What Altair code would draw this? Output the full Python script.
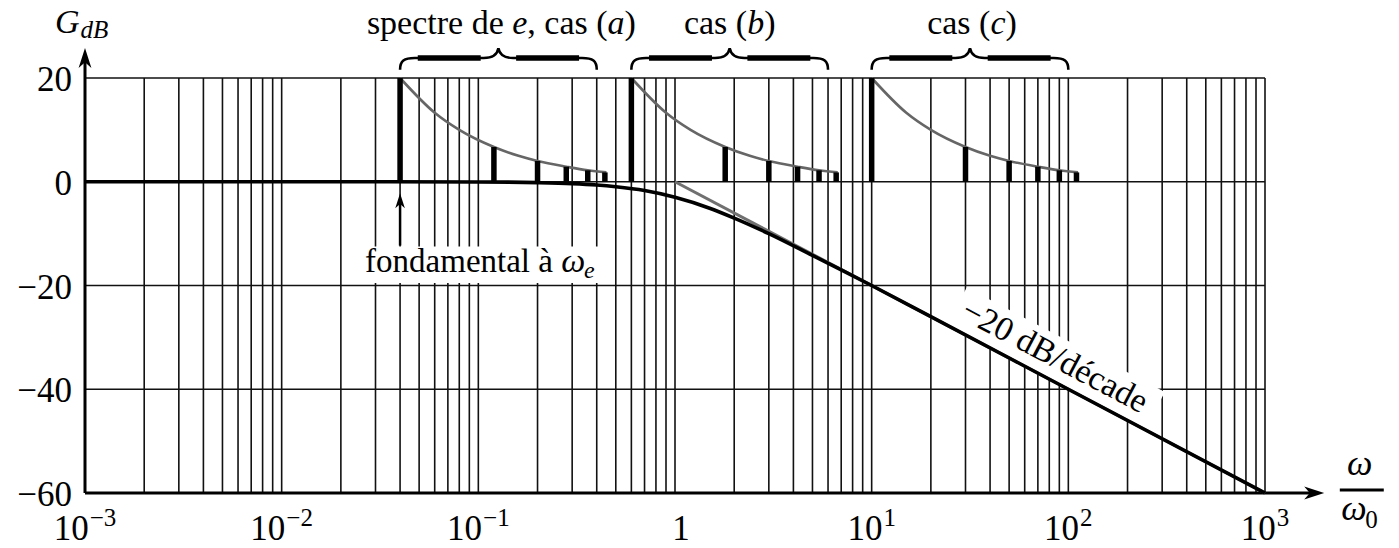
import altair as alt
import pandas as pd

# ---------------- data ----------------
decade_ticks = [0.001, 0.01, 0.1, 1, 10, 100, 1000]
decade_mant = ["10", "10", "10", "1", "10", "10", "10"]
decade_exp = ["−3", "−2", "−1", "", "1", "2", "3"]
grid_mult = [1, 2, 3, 4, 5, 6, 7, 8, 9]
grid_y = [-60, -40, -20, 0, 20]
y_tick_labels = ["−60", "−40", "−20", "0", "20"]

# Bode curve of the first order low-pass filter
omega_curve = [0.001, 0.01, 0.1, 0.2, 0.3, 0.4, 0.5, 0.7, 1, 1.5, 2, 3, 5, 7, 10, 20, 100, 1000]
gain_curve = [0, 0, -0.04, -0.17, -0.37, -0.64, -0.97, -1.7, -3.0, -5.1, -7.0, -10.0, -14.2, -17.0, -20.0, -26.0, -40.0, -60.0]
# asymptote -20 dB/decade
omega_asym = [1, 1000]
gain_asym = [0, -60]

# spectra of e for the three cases
cases = ["a", "b", "c"]
omega_e = [0.04, 0.6, 10]
harm_rank = [1, 3, 5, 7, 9, 11]
harm_amp = [20, 6.7, 4.0, 2.9, 2.2, 1.8]
env_rank = [1, 1.5, 2, 3, 4, 5, 7, 9, 11.2]
env_amp = [20, 13.3, 10, 6.7, 5.0, 4.0, 2.9, 2.2, 1.8]
brace_center = [0.1265, 1.897, 31.62]

FONT = "Liberation Serif"
XS = alt.Scale(type="log", domain=[0.001, 1000], nice=False)
YS = alt.Scale(domain=[-60, 20], nice=False, zero=False)

REG = {' ': 250, '(': 333, ')': 333, ',': 250, 'a': 444, 'c': 444, 'd': 500, 'e': 444,
       's': 389, 'p': 500, 't': 278, 'r': 333, 'f': 333, 'o': 500, 'n': 500, 'm': 778,
       'l': 278, 'à': 444, 'B': 667, 'é': 444, '/': 278, '−': 564}
ITA = {'a': 500, 'b': 500, 'c': 444, 'd': 500, 'e': 444, 'G': 722, 'B': 611, 'ω': 670}


def width(text, italic, size):
    tab = ITA if italic else REG
    return sum(tab.get(ch, 500) for ch in text) * size / 1000.0


def X(f):
    return alt.X(f, type="quantitative", scale=XS, axis=None)


def Y(f):
    return alt.Y(f, type="quantitative", scale=YS, axis=None)


def txt(x, y, text, dx=0, dy=0, size=33, italic=False, align="left", angle=0, baseline="alphabetic"):
    df = pd.DataFrame({"x": [x], "y": [y], "t": [text]})
    kw = dict(font=FONT, fontSize=size, fontStyle="italic" if italic else "normal",
              align=align, baseline=baseline, dx=dx, dy=dy, color="black")
    if angle:
        kw["angle"] = angle
    return alt.Chart(df).mark_text(**kw).encode(x=X("x"), y=Y("y"), text="t:N")


def segs(x, y, parts, dx0, dy0, center=False):
    """parts: list of (text, italic, size, extra_dy, gap)"""
    total = sum(width(p[0], p[1], p[2]) + p[4] for p in parts)
    cur = dx0 - total / 2 if center else dx0
    out = []
    for text, it, size, ddy, gap in parts:
        out.append(txt(x, y, text, dx=cur, dy=dy0 + ddy, size=size, italic=it))
        cur += width(text, it, size) + gap
    return out


layers = []
GRID = "#111"

# ---------------- grid ----------------
grid_x = [m * d for d in decade_ticks[:-1] for m in grid_mult] + [decade_ticks[-1]]
gv = pd.DataFrame({"x": grid_x, "y0": -60, "y1": 20})
layers.append(alt.Chart(gv).mark_rule(color=GRID, strokeWidth=1.6).encode(
    x=X("x"), y=Y("y0"), y2="y1"))
gh = pd.DataFrame({"y": grid_y, "x0": 0.001, "x1": 1000})
layers.append(alt.Chart(gh).mark_rule(color=GRID, strokeWidth=1.6).encode(
    y=Y("y"), x=X("x0"), x2="x1"))

# white boxes behind the annotations
box = pd.DataFrame({"x0": [0.0245], "x1": [0.478], "y0": [-12.5], "y1": [-19.5]})
layers.append(alt.Chart(box).mark_rect(color="white").encode(
    x=X("x0"), x2="x1", y=Y("y0"), y2="y1"))
BAND = "M-1,-0.19 L1,-0.19 L1,0.19 L-1,0.19 Z"
band = pd.DataFrame({"x": [86.4], "y": [-34.1]})
layers.append(alt.Chart(band).mark_point(shape=BAND, size=50176, filled=True, color="white",
                                         opacity=1, angle=27.81, strokeWidth=0).encode(
    x=X("x"), y=Y("y")))

# ---------------- axes ----------------
xa = pd.DataFrame({"x0": [0.001], "x1": [1730], "y": [-60]})
layers.append(alt.Chart(xa).mark_rule(color="black", strokeWidth=3).encode(
    x=X("x0"), x2="x1", y=Y("y")))
ya = pd.DataFrame({"x": [0.001], "y0": [-60], "y1": [23.5]})
layers.append(alt.Chart(ya).mark_rule(color="black", strokeWidth=3).encode(
    x=X("x"), y=Y("y0"), y2="y1"))
ARR_R = "M0,0 L-1,-0.32 L-0.72,0 L-1,0.32 Z"
ARR_U = "M0,0 L-0.32,1 L0,0.72 L0.32,1 Z"
layers.append(alt.Chart(pd.DataFrame({"x": [2000], "y": [-60]})).mark_point(
    shape=ARR_R, size=1600, filled=True, color="black", opacity=1).encode(x=X("x"), y=Y("y")))
layers.append(alt.Chart(pd.DataFrame({"x": [0.001], "y": [25.8]})).mark_point(
    shape=ARR_U, size=1600, filled=True, color="black", opacity=1).encode(x=X("x"), y=Y("y")))

# ---------------- curves ----------------
asym = pd.DataFrame({"x": omega_asym, "y": gain_asym})
layers.append(alt.Chart(asym).mark_line(color="#707070", strokeWidth=3).encode(x=X("x"), y=Y("y")))
bode = pd.DataFrame({"x": omega_curve, "y": gain_curve})
layers.append(alt.Chart(bode).mark_line(color="black", strokeWidth=3.6, interpolate="monotone").encode(
    x=X("x"), y=Y("y")))

# ---------------- spectra ----------------
env_rows, bar_rows = [], []
for c, we in zip(cases, omega_e):
    for r, a in zip(env_rank, env_amp):
        env_rows.append({"case": c, "x": we * r, "y": a})
    for r, a in zip(harm_rank, harm_amp):
        bar_rows.append({"case": c, "x": we * r, "y": a, "y0": 0})
env = pd.DataFrame(env_rows)
bars = pd.DataFrame(bar_rows)
layers.append(alt.Chart(env).mark_line(color="#666", strokeWidth=2.6, interpolate="monotone").encode(
    x=X("x"), y=Y("y"), detail="case:N"))
layers.append(alt.Chart(bars).mark_rule(color="black", strokeWidth=5.5).encode(
    x=X("x"), y=Y("y0"), y2="y"))

# braces
BRACE = ("M-1,0.12 C-1,0.03 -0.96,0 -0.85,0 L-0.15,0 C-0.05,0 -0.01,-0.04 0,-0.1 "
         "C0.01,-0.04 0.05,0 0.15,0 L0.85,0 C0.96,0 1,0.03 1,0.12")
BRACE_MID = "M-0.82,0 L-0.18,0 M0.18,0 L0.82,0"
br = pd.DataFrame({"x": brace_center, "y": 23.86})
layers.append(alt.Chart(br).mark_point(shape=BRACE, size=38691, filled=False, color="black",
                                       opacity=1, strokeWidth=2.6).encode(x=X("x"), y=Y("y")))
layers.append(alt.Chart(br).mark_point(shape=BRACE_MID, size=38691, filled=False, color="black",
                                       opacity=1, strokeWidth=5.5).encode(x=X("x"), y=Y("y")))

# fundamental arrow
fa = pd.DataFrame({"x": [omega_e[0]], "y0": [-12.3], "y1": [-4.0]})
layers.append(alt.Chart(fa).mark_rule(color="black", strokeWidth=2.5).encode(
    x=X("x"), y=Y("y0"), y2="y1"))
layers.append(alt.Chart(pd.DataFrame({"x": [omega_e[0]], "y": [-2.2]})).mark_point(
    shape=ARR_U, size=900, filled=True, color="black", opacity=1).encode(x=X("x"), y=Y("y")))

# ---------------- texts ----------------
# titles over braces
layers += segs(brace_center[0], 20, [("spectre de ", False, 34, 0, 0), ("e", True, 34, 0, 0),
                                     (", cas (", False, 34, 0, 0), ("a", True, 34, 0, 0),
                                     (")", False, 34, 0, 0)], 3, -44, center=True)
layers += segs(brace_center[1], 20, [("cas (", False, 34, 0, 0), ("b", True, 34, 0, 0),
                                     (")", False, 34, 0, 0)], 0, -44, center=True)
layers += segs(brace_center[2], 20, [("cas (", False, 34, 0, 0), ("c", True, 34, 0, 0),
                                     (")", False, 34, 0, 0)], 2, -44, center=True)
# fundamental label
layers += segs(omega_e[0], 0, [("fondamental à ", False, 33, 0, 0), ("ω", True, 34, 0, 0),
                               ("e", True, 24, 6, 0)], -35, 90)
# slope label
layers.append(txt(86.4, -34.1, "−20 dB/décade", size=34, align="center", angle=27.81,
                  baseline="middle", dy=-1, dx=-2))

# y tick labels
for v, lab in zip(grid_y, y_tick_labels):
    layers.append(txt(0.001, v, lab, dx=-13, dy=13, size=35, align="right"))
# x tick labels
for v, m, e in zip(decade_ticks, decade_mant, decade_exp):
    if e:
        layers += segs(v, -60, [(m, False, 35, 0, 1), (e, False, 25, -14, 0)], 0, 47, center=True)
    else:
        layers.append(txt(v, -60, m, dy=47, size=35, align="center", dx=6))

# axis titles
layers += segs(0.001, 20, [("G", True, 34, 0, 1), ("dB", True, 25, 5, 0)], -30, -45)
layers.append(txt(2000, -60, "ω", dx=35.6, dy=-18, size=36, italic=True, align="center"))
frac = pd.DataFrame({"x0": [2401], "x1": [4018], "y": [-59.42]})
layers.append(alt.Chart(frac).mark_rule(color="black", strokeWidth=2.8).encode(
    x=X("x0"), x2="x1", y=Y("y")))
layers += segs(2000, -60, [("ω", True, 36, 0, 0), ("0", False, 25, 8, 0)], 17, 27)

chart = alt.layer(*layers).properties(
    width=1180, height=415,
    autosize=alt.AutoSizeParams(type="none"),
    padding={"left": 85, "top": 78, "right": 134, "bottom": 55},
    background="white",
).configure_view(stroke=None)

chart.save("out.html", embed_options={"renderer": "svg", "actions": False})
